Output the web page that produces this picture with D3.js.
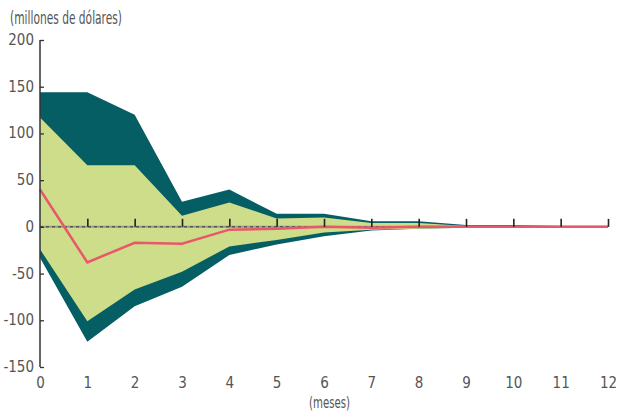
<!DOCTYPE html>
<html><head><meta charset="utf-8">
<script src="https://cdn.jsdelivr.net/npm/d3@7"></script>
<style>
body{margin:0;background:#fff;}
text{font-family:"Liberation Sans Narrow","DejaVu Sans Condensed","Roboto Condensed",sans-serif;fill:#555;}
</style></head><body>
<svg id="c" width="618" height="412"></svg>
<script>
const months = [0,1,2,3,4,5,6,7,8,9,10,11,12];
const outerUpper = [144,144,120,27,40,14,14,6,6,2,2,1,1];
const innerUpper = [117,66,66,12,26,9,10,4,4,1,1,1,1];
const innerLower = [-24,-101,-67,-48,-21,-14,-6,-3,-2,-1,-1,-1,-1];
const outerLower = [-33,-123,-85,-64,-30,-19,-10,-4,-2,-1,-1,-1,-1];
const response = [40,-38,-17,-18,-3,-2,0,-1,0,0,0,0,0];
const yTicks = [200,150,100,50,0,-50,-100,-150];

const svg = d3.select("#c");
const x = d3.scaleLinear().domain([0,12]).range([40,608]);
const y = d3.scaleLinear().domain([-150,200]).range([367,40]);

const area = (up, lo) => d3.area().x((d,i)=>x(months[i])).y0((d,i)=>y(lo[i])).y1((d,i)=>y(up[i]));
svg.append("path").datum(months).attr("d", area(outerUpper,outerLower)).attr("fill","#055e63");
svg.append("path").datum(months).attr("d", area(innerUpper,innerLower)).attr("fill","#cddd8a");

// zero line
svg.append("line").attr("x1",x(0)).attr("x2",x(12)).attr("y1",y(0)).attr("y2",y(0))
  .attr("stroke","#999").attr("stroke-width",2);
svg.append("line").attr("x1",x(0)).attr("x2",x(12)).attr("y1",y(0)).attr("y2",y(0))
  .attr("stroke","#333").attr("stroke-width",1).attr("stroke-dasharray","3,3");

// red line
svg.append("path").datum(response)
  .attr("d", d3.line().x((d,i)=>x(months[i])).y(d=>y(d)))
  .attr("fill","none").attr("stroke","#e8586a").attr("stroke-width",2.5);

// x ticks on zero line
const xAxis = svg.append("g").attr("transform",`translate(0,${y(0)})`)
  .call(d3.axisTop(x).tickValues(months.slice(1)).tickSize(8).tickFormat(""));
xAxis.select(".domain").remove();
xAxis.selectAll(".tick line").attr("stroke","#222").attr("stroke-width",1.6);

// x labels at bottom
const xLab = svg.append("g").attr("transform",`translate(0,${y(-150)})`)
  .call(d3.axisBottom(x).tickValues(months).tickSize(0).tickPadding(10).tickFormat(d3.format("d")));
xLab.select(".domain").remove();
xLab.selectAll("text").attr("font-size",15).style("fill","#555")
  .style("font-family",'"Liberation Sans Narrow","DejaVu Sans Condensed",sans-serif');

// y axis
const yAxis = svg.append("g").attr("transform",`translate(${x(0)},0)`)
  .call(d3.axisRight(y).tickValues(yTicks).tickSize(4).tickFormat(""));
yAxis.select(".domain").attr("stroke","#333").attr("stroke-width",1.5).attr("d",`M0,${y(200)}V${y(-150)}`);
yAxis.selectAll(".tick line").attr("stroke","#333").attr("stroke-width",1.3);
svg.append("g").selectAll("text").data(yTicks).join("text")
  .attr("x",34).attr("y",d=>y(d)+5).attr("text-anchor","end").attr("font-size",15)
  .text(d=>d===0?"0":(d<0?"-"+Math.abs(d):d));

svg.append("text").attr("x",10).attr("y",24).attr("font-size",17)
  .attr("textLength",112).attr("lengthAdjust","spacingAndGlyphs").text("(millones de dólares)");
svg.append("text").attr("x",309).attr("y",408).attr("font-size",15)
  .attr("textLength",41).attr("lengthAdjust","spacingAndGlyphs").text("(meses)");
</script></body></html>
